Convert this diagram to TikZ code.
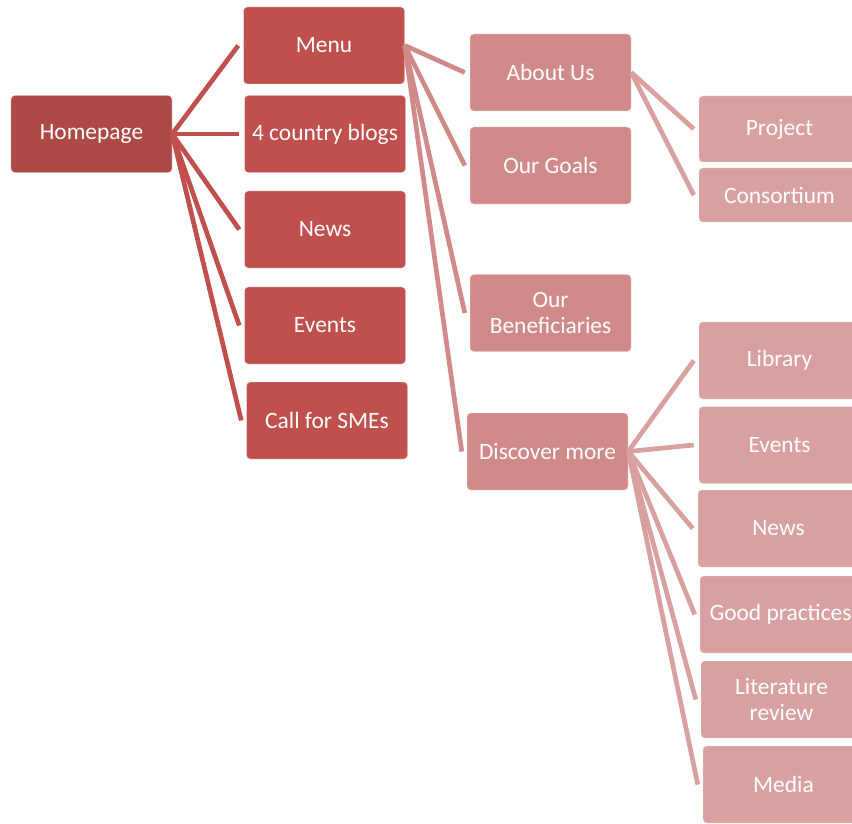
\documentclass[tikz,border=0pt]{standalone}
\usepackage{fontspec}
\setmainfont{Carlito}
\usetikzlibrary{positioning,calc}
\definecolor{rootred}{HTML}{AE4A46}
\definecolor{mainred}{HTML}{C0504D}
\definecolor{midred}{HTML}{D08A89}
\definecolor{softred}{HTML}{D8A0A0}
\tikzset{
  box/.style={draw=white!85!mainred, line width=0.4pt, rounded corners=3pt, align=center, text=white,
    minimum width=4.83cm, minimum height=2.31cm, inner sep=2pt, font=\fontsize{20}{22}\selectfont},
  rootbox/.style={box, fill=rootred},
  mainbox/.style={box, fill=mainred},
  midbox/.style={box, fill=midred},
  softbox/.style={box, fill=softred},
  branch/.style={line width=4pt, line cap=butt},
}

\begin{document}
\begin{tikzpicture}[x=0.03cm, y=-0.03cm]
    \useasboundingbox (0,0) rectangle (852,823);
    \clip (0,0) rectangle (852,823);
    % level 0 and 1
    \node[rootbox] (home) at (91.5,134) {Homepage};
    \node[mainbox] (menu) at (324,45.5) {Menu};
    \node[mainbox] (blogs) at (325,134) {4 country blogs};
    \node[mainbox] (news) at (325,229.5) {News};
    \node[mainbox] (events) at (325,325.5) {Events};
    \node[mainbox] (smes) at (327,420.5) {Call for SMEs};
    % level 2
    \node[midbox] (about) at (550.5,72.5) {About Us};
    \node[midbox] (goals) at (550.5,165.5) {Our Goals};
    \node[midbox] (benef) at (550.5,313) {Our\\Beneficiaries};
    \node[midbox] (discover) at (547.5,451.5) {Discover more};
    % level 3
    \node[softbox, minimum height=1.98cm] (project) at (779.5,129) {\raisebox{-4pt}{Project}};
    \node[softbox, minimum height=1.62cm] (consort) at (779.5,195) {Consortium};
    \node[softbox] (library) at (779.5,360.5) {Library};
    \node[softbox] (events2) at (779.5,445) {Events};
    \node[softbox] (news2) at (778.5,528.5) {News};
    \node[softbox] (good) at (780.5,614.5) {Good practices};
    \node[softbox] (lit) at (781.5,699.5) {Literature\\review};
    \node[softbox] (media) at (783.5,784.5) {Media};
    % connectors
    \foreach \kid in {menu,blogs,news,events,smes}
      \draw[branch, mainred] (home.east) -- ($(\kid.west)+(-5,0)$);
    \foreach \kid in {about,goals,benef,discover}
      \draw[branch, midred] (menu.east) -- ($(\kid.west)+(-5,0)$);
    \foreach \kid in {project,consort}
      \draw[branch, softred] (about.east) -- ($(\kid.west)+(-5,0)$);
    \foreach \kid in {library,events2,news2,good,lit,media}
      \draw[branch, softred] (discover.east) -- ($(\kid.west)+(-5,0)$);
  \end{tikzpicture}
\end{document}
